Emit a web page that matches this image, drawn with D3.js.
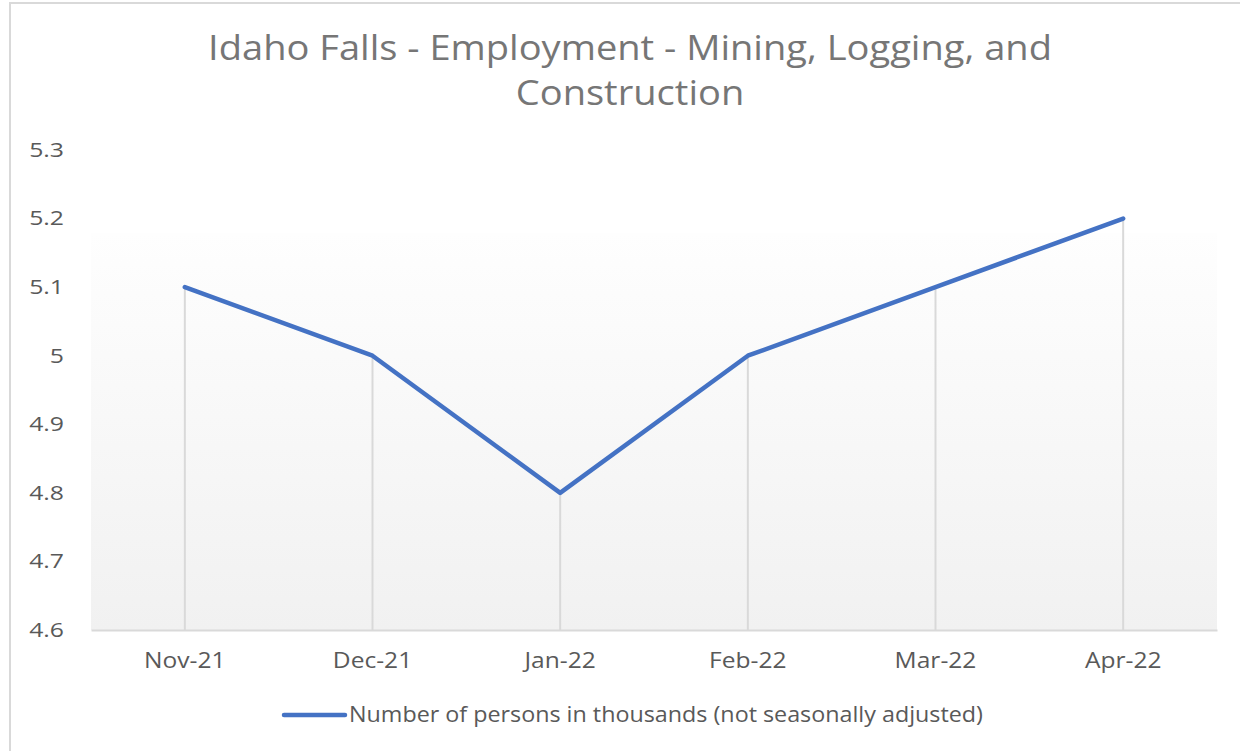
<!DOCTYPE html>
<html>
<head>
<meta charset="utf-8">
<script src="https://cdn.jsdelivr.net/npm/d3@7"></script>
<style>
  html, body { margin: 0; padding: 0; background: #fff; }
  svg { display: block; }
  text { font-family: "Open Sans", "Noto Sans", sans-serif; }
</style>
</head>
<body>
<div id="chart"></div>
<script>
// data
var months = ["Nov-21", "Dec-21", "Jan-22", "Feb-22", "Mar-22", "Apr-22"];
var employment = [5.1, 5.0, 4.8, 5.0, 5.1, 5.2];
var yTicks = [4.6, 4.7, 4.8, 4.9, 5.0, 5.1, 5.2, 5.3];
var titleLines = ["Idaho Falls - Employment - Mining, Logging, and", "Construction"];
var seriesName = "Number of persons in thousands (not seasonally adjusted)";

var width = 1240;
var height = 751;
var margin = {top: 150, right: 23, bottom: 121, left: 91};

// the source picture is a bit wider than it is tall, so text gets stretched
function stretch(sel, sx) {
	sel.each(function() {
		var t = d3.select(this);
		var tx = +t.attr("x") || 0;
		var ty = +t.attr("y") || 0;
		t.attr("x", 0).attr("y", 0)
			.attr("transform", "translate(" + tx + "," + ty + ") scale(" + sx + ",1)");
	});
}

var svg = d3.select("#chart").append("svg")
	.attr("width", width)
	.attr("height", height);

// chart border
svg.append("rect")
	.attr("x", 10).attr("y", 3)
	.attr("width", width + 20).attr("height", height + 20)
	.attr("fill", "#fff")
	.attr("stroke", "#d9d9d9")
	.attr("stroke-width", 2);

var x = d3.scaleBand()
	.domain(months)
	.range([margin.left, width - margin.right]);

var y = d3.scaleLinear()
	.domain([4.6, 5.3])
	.range([height - margin.bottom, margin.top]);

// plot area gradient
var grad = svg.append("defs").append("linearGradient")
	.attr("id", "plotFill")
	.attr("x1", 0).attr("y1", 0).attr("x2", 0).attr("y2", 1);
grad.append("stop").attr("offset", "0%").attr("stop-color", "#fefefe");
grad.append("stop").attr("offset", "100%").attr("stop-color", "#f1f1f1");

svg.append("rect")
	.attr("x", margin.left)
	.attr("y", 233)
	.attr("width", width - margin.right - margin.left)
	.attr("height", y(4.6) - 233)
	.attr("fill", "url(#plotFill)");

// title
svg.append("g")
	.selectAll("text")
	.data(titleLines)
	.enter().append("text")
	.attr("x", 630)
	.attr("y", (d, i) => 60 + i * 45)
	.attr("text-anchor", "middle")
	.style("font-size", "34px")
	.style("fill", "#767676")
	.text(d => d)
	.call(stretch, 1.12);

// y axis labels
var yAxis = svg.append("g")
	.attr("transform", "translate(" + margin.left + ",0)")
	.call(d3.axisLeft(y).tickValues(yTicks).tickSize(0).tickPadding(27)
		.tickFormat(d => String(+d.toFixed(1))));
yAxis.select(".domain").remove();
yAxis.selectAll("text")
	.style("font-size", "20px")
	.style("fill", "#595959")
	.style("font-family", "\"Open Sans\", sans-serif")
	.call(stretch, 1.24);

// drop lines
svg.append("g")
	.selectAll("line")
	.data(employment)
	.enter().append("line")
	.attr("x1", (d, i) => x(months[i]) + x.bandwidth() / 2)
	.attr("x2", (d, i) => x(months[i]) + x.bandwidth() / 2)
	.attr("y1", d => y(d))
	.attr("y2", y(4.6))
	.attr("stroke", "#d9d9d9")
	.attr("stroke-width", 2);

// x axis
var xAxis = svg.append("g")
	.attr("transform", "translate(0," + y(4.6) + ")")
	.call(d3.axisBottom(x).tickSize(0).tickPadding(23));
xAxis.select(".domain")
	.attr("stroke", "#d9d9d9")
	.attr("stroke-width", 2);
xAxis.selectAll("text")
	.style("font-size", "21px")
	.style("fill", "#595959")
	.style("font-family", "\"Open Sans\", sans-serif")
	.call(stretch, 1.17);

// series line
var line = d3.line()
	.x((d, i) => x(months[i]) + x.bandwidth() / 2)
	.y(d => y(d));

svg.append("path")
	.datum(employment)
	.attr("fill", "none")
	.attr("stroke", "#4472c4")
	.attr("stroke-width", 4.5)
	.attr("stroke-linejoin", "round")
	.attr("stroke-linecap", "round")
	.attr("d", line);

// legend
var legend = svg.append("g").attr("transform", "translate(284,715)");
legend.append("line")
	.attr("x1", 0).attr("x2", 61)
	.attr("stroke", "#4472c4")
	.attr("stroke-width", 4.5)
	.attr("stroke-linecap", "round");
legend.append("text")
	.attr("x", 65)
	.attr("dy", "0.35em")
	.style("font-size", "21px")
	.style("fill", "#595959")
	.text(seriesName)
	.call(stretch, 1.11);
</script>
</body>
</html>
